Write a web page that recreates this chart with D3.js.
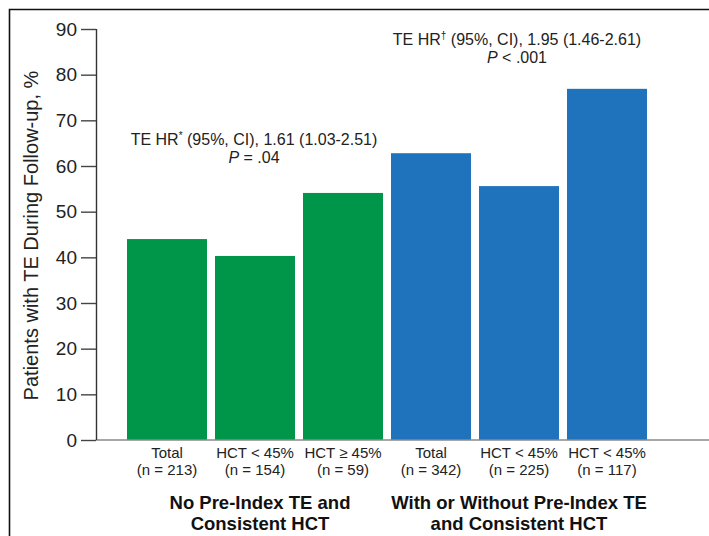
<!DOCTYPE html>
<html>
<head>
<meta charset="utf-8">
<script src="https://cdn.jsdelivr.net/npm/d3@7"></script>
<style>
  body { margin: 0; background: #fff; }
  svg { display: block; font-family: "Liberation Sans", Arial, sans-serif; }
</style>
</head>
<body>
<svg width="709" height="536"></svg>
<script>
const width = 709
const height = 536

// data
const categories = ['g1', 'g2', 'g3', 'b1', 'b2', 'b3']
const values = [44.0, 40.3, 54.1, 62.8, 55.6, 76.9]
const groupOf = [0, 0, 0, 1, 1, 1]
const catLine1 = ['Total', 'HCT < 45%', 'HCT \u2265 45%', 'Total', 'HCT < 45%', 'HCT < 45%']
const catLine2 = ['(n = 213)', '(n = 154)', '(n = 59)', '(n = 342)', '(n = 225)', '(n = 117)']
const groupLabels = [['No Pre-Index TE and', 'Consistent HCT'], ['With or Without Pre-Index TE', 'and Consistent HCT']]
const yTicks = [0, 10, 20, 30, 40, 50, 60, 70, 80, 90]
const colors = ['#00964a', '#1f73bc']

const margin = { left: 96, top: 29, right: 0, bottom: 96 }

const svg = d3.select('svg')

// frame (top + left edges visible)
svg.append('path')
    .attr('d', `M9.5,${height} V9.5 H${width}`)
    .attr('fill', 'none')
    .attr('stroke', '#111')
    .attr('stroke-width', 1.6)

const y = d3.scaleLinear()
    .domain([0, 90])
    .range([height - margin.bottom, margin.top])

const x = d3.scaleBand()
    .domain(categories)
    .range([123, 651])
    .paddingInner(8 / 88)
    .paddingOuter(4 / 88)

const cx = i => x(categories[i]) + x.bandwidth() / 2

// bars
svg.append('g')
    .selectAll('rect')
    .data(values)
    .join('rect')
    .attr('x', (d, i) => x(categories[i]))
    .attr('width', x.bandwidth())
    .attr('y', d => y(d))
    .attr('height', d => y(0) - y(d))
    .attr('fill', (d, i) => colors[groupOf[i]])

// baseline
svg.append('line')
    .attr('x1', margin.left)
    .attr('x2', width)
    .attr('y1', y(0))
    .attr('y2', y(0))
    .attr('stroke', '#8a8a8a')
    .attr('stroke-width', 1.6)

// y axis
const yAxis = svg.append('g')
    .attr('transform', `translate(${margin.left},0)`)
    .call(d3.axisLeft(y).tickValues(yTicks).tickSize(15).tickPadding(4))
yAxis.select('.domain')
    .attr('stroke', '#333')
    .attr('stroke-width', 1.4)
    .attr('d', `M0.5,${y(0)}V${y(90)}`)
yAxis.selectAll('.tick line')
    .attr('stroke', '#444')
    .attr('stroke-width', 1.4)
yAxis.selectAll('.tick text')
    .attr('font-size', 19)
    .attr('font-family', '"Liberation Sans", Arial, sans-serif')
    .attr('fill', '#222')

svg.append('text')
    .attr('transform', 'translate(38, 235.5) rotate(-90)')
    .attr('text-anchor', 'middle')
    .attr('font-size', 20)
    .attr('fill', '#222')
    .text('Patients with TE During Follow-up, %')

// category labels
const cat = svg.append('g')
    .attr('font-size', 15)
    .attr('fill', '#222')
    .attr('text-anchor', 'middle')
cat.selectAll('text.l1')
    .data(catLine1)
    .join('text')
    .attr('class', 'l1')
    .attr('x', (d, i) => cx(i))
    .attr('y', 457.5)
    .text(d => d)
cat.selectAll('text.l2')
    .data(catLine2)
    .join('text')
    .attr('class', 'l2')
    .attr('x', (d, i) => cx(i))
    .attr('y', 475)
    .text(d => d)

// group labels
const groupX = [cx(1) + 5, cx(4)]
groupLabels.forEach((lines, gi) => {
    svg.append('g')
        .selectAll('text')
        .data(lines)
        .join('text')
        .attr('x', groupX[gi])
        .attr('y', (d, li) => 509 + li * 21)
        .attr('text-anchor', 'middle')
        .attr('font-size', 18.5)
        .attr('font-weight', 'bold')
        .attr('fill', '#111')
        .text(d => d)
})

// HR annotations
const annot = [
    { cx: cx(1) - 1, y: y(64.7), hr: '*', ci: ', 1.61 (1.03-2.51)', p: '= .04' },
    { cx: cx(4) - 2, y: y(86.5), hr: '\u2020', ci: ', 1.95 (1.46-2.61)', p: '< .001' }
]
annot.forEach(a => {
    const t1 = svg.append('text')
        .attr('x', a.cx)
        .attr('y', a.y)
        .attr('text-anchor', 'middle')
        .attr('font-size', 16)
        .attr('fill', '#222')
    t1.append('tspan').text('TE HR')
    t1.append('tspan').attr('font-size', 10).attr('dy', -6).text(a.hr)
    t1.append('tspan').attr('dy', 6).text(' (95%, CI)' + a.ci)
    const t2 = svg.append('text')
        .attr('x', a.cx)
        .attr('y', a.y + 18)
        .attr('text-anchor', 'middle')
        .attr('font-size', 16)
        .attr('fill', '#222')
    t2.append('tspan').attr('font-style', 'italic').text('P')
    t2.append('tspan').text(' ' + a.p)
})
</script>
</body>
</html>
